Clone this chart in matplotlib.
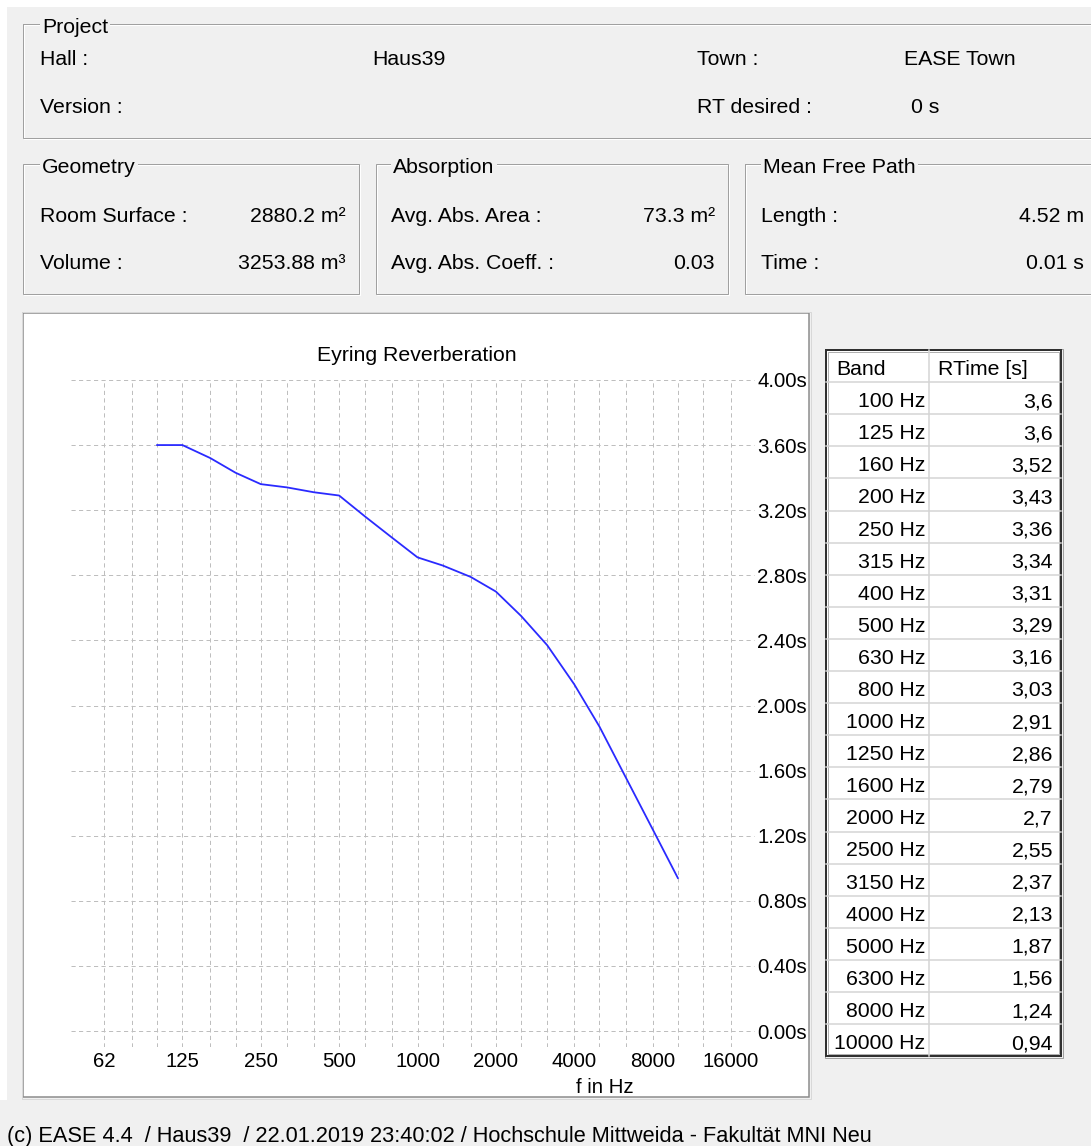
import matplotlib
matplotlib.use("Agg")
import matplotlib.pyplot as plt
from matplotlib.patches import Rectangle

plt.rcParams['font.family'] = ['Liberation Sans', 'DejaVu Sans']
plt.rcParams['lines.scale_dashes'] = False

# ---------------- data ----------------
bands = [100, 125, 160, 200, 250, 315, 400, 500, 630, 800, 1000, 1250, 1600,
         2000, 2500, 3150, 4000, 5000, 6300, 8000, 10000]
rtime = [3.6, 3.6, 3.52, 3.43, 3.36, 3.34, 3.31, 3.29, 3.16, 3.03, 2.91, 2.86,
         2.79, 2.7, 2.55, 2.37, 2.13, 1.87, 1.56, 1.24, 0.94]
grid_freqs = [62.5, 80, 100, 125, 160, 200, 250, 315, 400, 500, 630, 800, 1000,
              1250, 1600, 2000, 2500, 3150, 4000, 5000, 6300, 8000, 10000,
              12500, 16000]
xtick_vals = [62.5, 125, 250, 500, 1000, 2000, 4000, 8000, 16000]
xtick_labels = ['62', '125', '250', '500', '1000', '2000', '4000', '8000', '16000']
ytick_vals = [0.0, 0.4, 0.8, 1.2, 1.6, 2.0, 2.4, 2.8, 3.2, 3.6, 4.0]

project_info = [("Hall :", "Haus39", "Town :", "EASE Town"),
                ("Version :", "", "RT desired :", "0 s")]
geometry_info = [("Room Surface :", "2880.2 m²"), ("Volume :", "3253.88 m³")]
absorption_info = [("Avg. Abs. Area :", "73.3 m²"), ("Avg. Abs. Coeff. :", "0.03")]
mfp_info = [("Length :", "4.52 m"), ("Time :", "0.01 s")]
footer = "(c) EASE 4.4  / Haus39  / 22.01.2019 23:40:02 / Hochschule Mittweida - Fakultät MNI Neu"

W, H = 1091, 1146
BG = '#f0f0f0'
fig = plt.figure(figsize=(W / 100, H / 100), dpi=100, facecolor=BG)

bg = fig.add_axes([0, 0, 1, 1])
bg.set_xlim(0, W)
bg.set_ylim(H, 0)
bg.axis('off')
bg.set_zorder(0)

FS = 15.3
px = 0.72  # 1 pixel in points

# white margins top & left
bg.add_patch(Rectangle((0, 0), W, 7, fc='white', ec='none'))
bg.add_patch(Rectangle((0, 0), 7, 1100, fc='white', ec='none'))


def groupbox(x0, y0, x1, y1, label, lx, lbase):
    bg.add_patch(Rectangle((x0 + 1, y0 + 1), x1 - x0, y1 - y0, fill=False,
                           ec='white', lw=px))
    bg.add_patch(Rectangle((x0, y0), x1 - x0, y1 - y0, fill=False,
                           ec='#a0a0a0', lw=px))
    bg.text(lx, lbase, label, fontsize=FS, va='baseline', ha='left',
            color='#000000',
            bbox=dict(fc=BG, ec='none', pad=1.6))


# Project box
groupbox(23, 24, 1100, 138, "Project", 42, 33)
for (a, b, c, d), base in zip(project_info, [65, 113]):
    bg.text(40, base, a, fontsize=FS, va='baseline')
    bg.text(372, base, b, fontsize=FS, va='baseline')
    bg.text(697, base, c, fontsize=FS, va='baseline')
    bg.text(904 if d != "0 s" else 911, base, d, fontsize=FS, va='baseline')

# Geometry / Absorption / Mean free path boxes
groupbox(23, 164, 359, 294, "Geometry", 42, 173)
groupbox(376, 164, 728, 294, "Absorption", 393, 173)
groupbox(745, 164, 1100, 294, "Mean Free Path", 763, 173)
for info, lx, rx in [(geometry_info, 40, 346), (absorption_info, 391, 715),
                     (mfp_info, 761, 1084)]:
    for (lab, val), base in zip(info, [222, 269]):
        bg.text(lx, base, lab, fontsize=FS, va='baseline', ha='left')
        bg.text(rx, base, val, fontsize=FS, va='baseline', ha='right')

# Plot panel
bg.add_patch(Rectangle((23, 313), 786, 784, fc='white', ec='none'))
bg.add_patch(Rectangle((23, 313), 786, 784, fill=False, ec='#8a8a8a', lw=1.5 * px))
bg.add_patch(Rectangle((21.5, 311.5), 789, 787, fill=False, ec='#d8d8d8', lw=px))

bg.text(417, 361, "Eyring Reverberation", fontsize=FS, ha='center', va='baseline')
bg.text(605, 1093, "f in Hz", fontsize=14.7, ha='center', va='baseline')

# Table
tx0, tx1, tcol, ty0, rh = 826, 1061, 929, 350, 32.1
nrows = len(bands) + 1
ty1 = ty0 + nrows * rh
bg.add_patch(Rectangle((tx0, ty0), tx1 - tx0, ty1 - ty0, fc='white', ec='none'))
for k in range(1, nrows):
    bg.plot([tx0, tx1], [ty0 + k * rh] * 2, color='#d4d4d4', lw=1.5 * px)
bg.plot([tcol, tcol], [ty0, ty1], color='#d4d4d4', lw=1.5 * px)
bg.add_patch(Rectangle((tx0 - 1.5, ty0 - 1.5), tx1 - tx0 + 3, ty1 - ty0 + 3,
                       fill=False, ec='#a0a0a0', lw=px))
bg.add_patch(Rectangle((tx0, ty0), tx1 - tx0, ty1 - ty0, fill=False,
                       ec='#303030', lw=2 * px))
bg.add_patch(Rectangle((tx0 + 2, ty0 + 2), tx1 - tx0 - 4, ty1 - ty0 - 4, fill=False,
                       ec='#b0b0b0', lw=px))
bg.text(836, ty0 + 25, "Band", fontsize=FS, va='baseline', ha='left')
bg.text(938, ty0 + 25, "RTime [s]", fontsize=FS, va='baseline', ha='left')
for i, (b, v) in enumerate(zip(bands, rtime)):
    base = ty0 + (i + 1) * rh + 25
    bg.text(925, base, f"{b} Hz", fontsize=FS, va='baseline', ha='right')
    bg.text(1053, base, f"{v:g}".replace('.', ','), fontsize=FS,
            va='baseline', ha='right')

bg.text(7, 1142, footer, fontsize=15.7, va='baseline', ha='left')

# ---------------- chart axes ----------------
ax_l, ax_r, ax_t, ax_b = 71, 754, 378, 1047
ax = fig.add_axes([ax_l / W, 1 - ax_b / H, (ax_r - ax_l) / W, (ax_b - ax_t) / H])
ax.set_zorder(2)
ax.set_facecolor('none')
ax.set_xscale('log')
ax.set_xlim(46.67, 19608)
ax.set_ylim(-0.098, 4.012)
for s in ax.spines.values():
    s.set_visible(False)

dash = (0, (3.0, 2.4))
gc = '#bebebe'
for y in ytick_vals:
    ax.axhline(y, color=gc, lw=px, linestyle=dash, clip_on=False, zorder=1)
ax.vlines(grid_freqs, -0.098, 4.0, colors=gc, lw=px, linestyles=[dash], zorder=1)

ax.plot(bands, rtime, color='#2a2aff', lw=1.3, zorder=3)

ax.set_xticks(xtick_vals)
ax.set_xticklabels(xtick_labels)
ax.xaxis.set_minor_locator(matplotlib.ticker.NullLocator())
ax.tick_params(axis='x', length=0, pad=14.4, labelsize=14.7)
for lab in ax.get_xticklabels():
    lab.set_va('baseline')

ax.yaxis.tick_right()
ax.set_yticks(ytick_vals)
ax.set_yticklabels([f"{v:.2f}s" for v in ytick_vals])
ax.tick_params(axis='y', length=0, pad=2.2, labelsize=14.7)

fig.savefig("out.png", dpi=100, facecolor=BG)
